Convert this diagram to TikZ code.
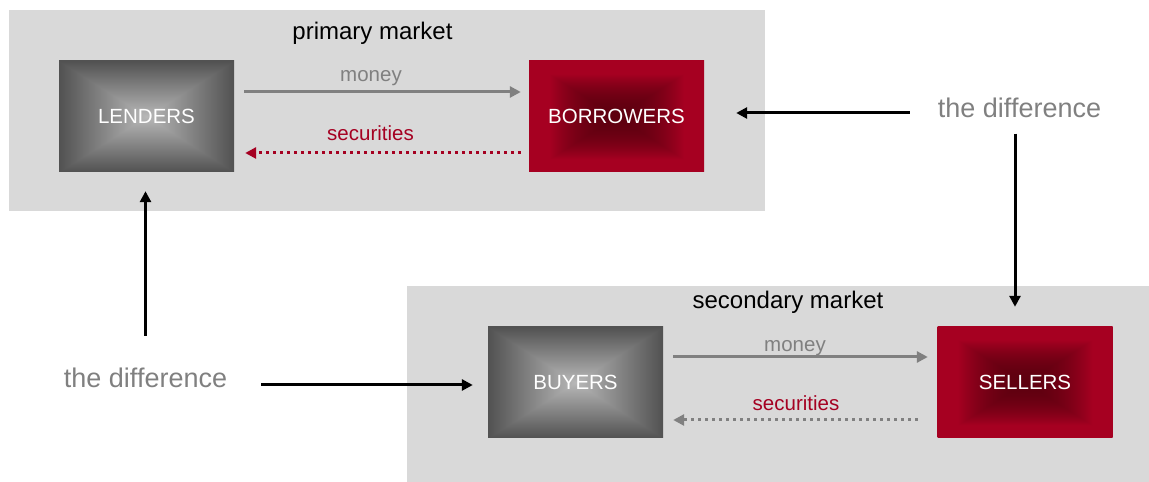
\documentclass[tikz,border=0pt]{standalone}
\usepackage{fontspec}
\setmainfont{Liberation Sans}
\usetikzlibrary{arrows.meta, positioning, calc}

\definecolor{marketgray}{HTML}{D9D9D9}
\definecolor{darkred}{HTML}{A50021}
\definecolor{labelgray}{HTML}{808080}

% Sombreados tipo "caja": contornos rectangulares desde el centro
\pgfdeclarefunctionalshading{graybox}{\pgfpoint{-50bp}{-50bp}}{\pgfpoint{50bp}{50bp}}{}{
  abs exch abs 2 copy lt {exch} if pop 25 div dup 1 gt {pop 1} if
  -0.40 mul 0.72 add dup dup
}
\pgfdeclarefunctionalshading{redbox}{\pgfpoint{-50bp}{-50bp}}{\pgfpoint{50bp}{50bp}}{}{
  abs exch abs 2 copy lt {exch} if pop 25 div 1.3 mul dup mul dup 1 gt {pop 1} if
  dup 0.28 mul 0.37 add exch 0 exch 0.07 mul 0.06 add
}

\begin{document}
\begin{tikzpicture}[
    x=1pt,
    y=1pt,
    >={Triangle[length=11pt, width=11pt]},
    % Estilos de cajas, etiquetas y flechas
    market/.style={fill=marketgray},
    market label/.style={font=\fontsize{24}{28}\selectfont, inner sep=0pt},
    agent box/.style={shade, minimum width=175pt, minimum height=111pt, inner sep=0pt, text=white, font=\fontsize{20.5}{24}\selectfont},
    gray agent/.style={agent box, shading=graybox},
    red agent/.style={agent box, shading=redbox},
    flow label/.style={font=\fontsize{20.5}{24}\selectfont, inner sep=0pt},
    diff label/.style={font=\fontsize{27}{32}\selectfont, text=labelgray, inner sep=0pt},
    money flow/.style={->, draw=labelgray, fill=labelgray, line width=3pt},
    securities flow/.style={->, line width=3pt, dash pattern=on 3pt off 4pt},
    diff flow/.style={->, line width=3pt, black}
]
    \useasboundingbox (0,0) rectangle (1149,482);

    % --- 1. MERCADOS (FONDOS GRISES) ---
    \fill[market] (9,271) rectangle (765,472);
    \fill[market] (407,0) rectangle (1149,196);
    \node[market label] (primary) at (372.5,448.5) {primary market};
    \node[market label] (secondary) at (788,180) {secondary market};

    % --- 2. AGENTES ---
    \node[gray agent] (lenders) at (146.5,365.5) {LENDERS};
    \node[red agent] (borrowers) at (616.5,365.5) {BORROWERS};
    \node[gray agent] (buyers) at (575.5,99.5) {BUYERS};
    \node[red agent] (sellers) at (1025,99.5) {SELLERS};

    % --- 3. MERCADO PRIMARIO ---
    \draw[money flow, shorten <=10pt, shorten >=8pt] ([yshift=24.5pt]lenders.east) -- ([yshift=24.5pt]borrowers.west);
    \draw[securities flow, darkred, shorten <=8pt, shorten >=11pt] ([yshift=-36.5pt]borrowers.west) -- ([yshift=-36.5pt]lenders.east);
    \node[flow label, text=labelgray] (money up) at (371,404) {money};
    \node[flow label, text=darkred] (securities up) at (370.5,348.5) {securities};

    % --- 4. MERCADO SECUNDARIO ---
    \draw[money flow, shorten <=10pt, shorten >=9.5pt] ([yshift=25.5pt]buyers.east) -- ([yshift=25.5pt]sellers.west);
    \draw[securities flow, labelgray, shorten <=19.5pt, shorten >=10pt] ([yshift=-37.5pt]sellers.west) -- ([yshift=-37.5pt]buyers.east);
    \node[flow label, text=labelgray] (money down) at (795,133.5) {money};
    \node[flow label, text=darkred] (securities down) at (796,78.5) {securities};

    % --- 5. LA DIFERENCIA ---
    \node[diff label] (diff right) at (1019.5,374.5) {the difference};
    \node[diff label] (diff left) at (145.5,104) {the difference};

    \draw[diff flow, shorten <=28pt, shorten >=32pt] ([yshift=-5.5pt]diff right.west) -- ([yshift=-5.5pt]diff right.west -| borrowers.east);
    \draw[diff flow, shorten <=16pt, shorten >=20pt] ([xshift=-4.5pt]diff right.south) -- ([xshift=-4.5pt]diff right.south |- sellers.north);
    \draw[diff flow, shorten <=32pt, shorten >=19pt] (diff left.north) -- (diff left.north |- lenders.south);
    \draw[diff flow, shorten <=34pt, shorten >=15pt] ([yshift=-7pt]diff left.east) -- ([yshift=-7pt]diff left.east -| buyers.west);

\end{tikzpicture}
\end{document}
